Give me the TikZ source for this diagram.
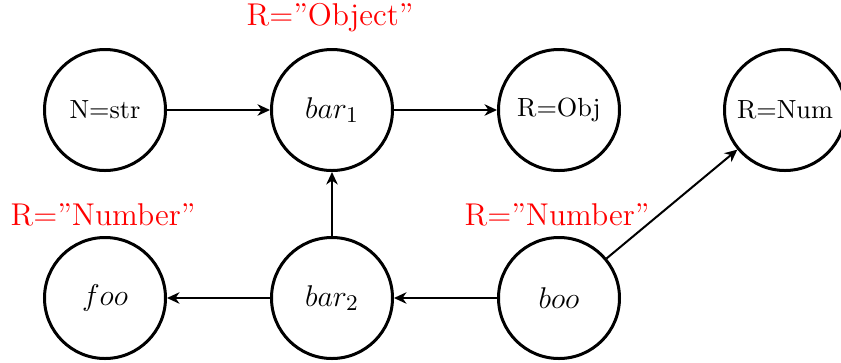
\documentclass[tikz,border=0pt]{standalone}
\usetikzlibrary{arrows.meta}
\begin{document}
\begin{tikzpicture}[x=0.4pt,y=-0.4pt,
  state/.style={circle,draw,line width=1.2pt,minimum size=48.4pt,inner sep=0pt,font=\fontsize{10.5}{12}\selectfont},
  mstate/.style={state,font=\fontsize{12.6}{15}\selectfont},
  edge/.style={-{Stealth[length=5pt,width=4.6pt,inset=1.6pt]},line width=0.8pt},
  lbl/.style={text=red,font=\fontsize{12.6}{15}\selectfont,inner sep=0pt}]
\useasboundingbox (0,0) rectangle (841,362);
\node[state] (nstr) at (105,110) {N=str};
\node[mstate] (bar1) at (332,110) {$bar_1$};
\node[state] (robj) at (559,110) {R=Obj};
\node[state] (rnum) at (785,110) {R=Num};
\node[mstate] (foo) at (105,298) {$foo$};
\node[mstate] (bar2) at (332,298) {$bar_2$};
\node[mstate] (boo) at (559,298) {$boo$};
\node[lbl] (lobj) at (330,18) {R=\textquotedblright Object\textquotedblright};
\node[lbl] (lnum1) at (103,215) {R=\textquotedblright Number\textquotedblright};
\node[lbl] (lnum2) at (557,215) {R=\textquotedblright Number\textquotedblright};
\draw[edge] (nstr) -- (bar1);
\draw[edge] (bar1) -- (robj);
\draw[edge] (bar2) -- (bar1);
\draw[edge] (bar2) -- (foo);
\draw[edge] (boo) -- (bar2);
\draw[edge] (boo) -- (rnum);
\end{tikzpicture}
\end{document}
